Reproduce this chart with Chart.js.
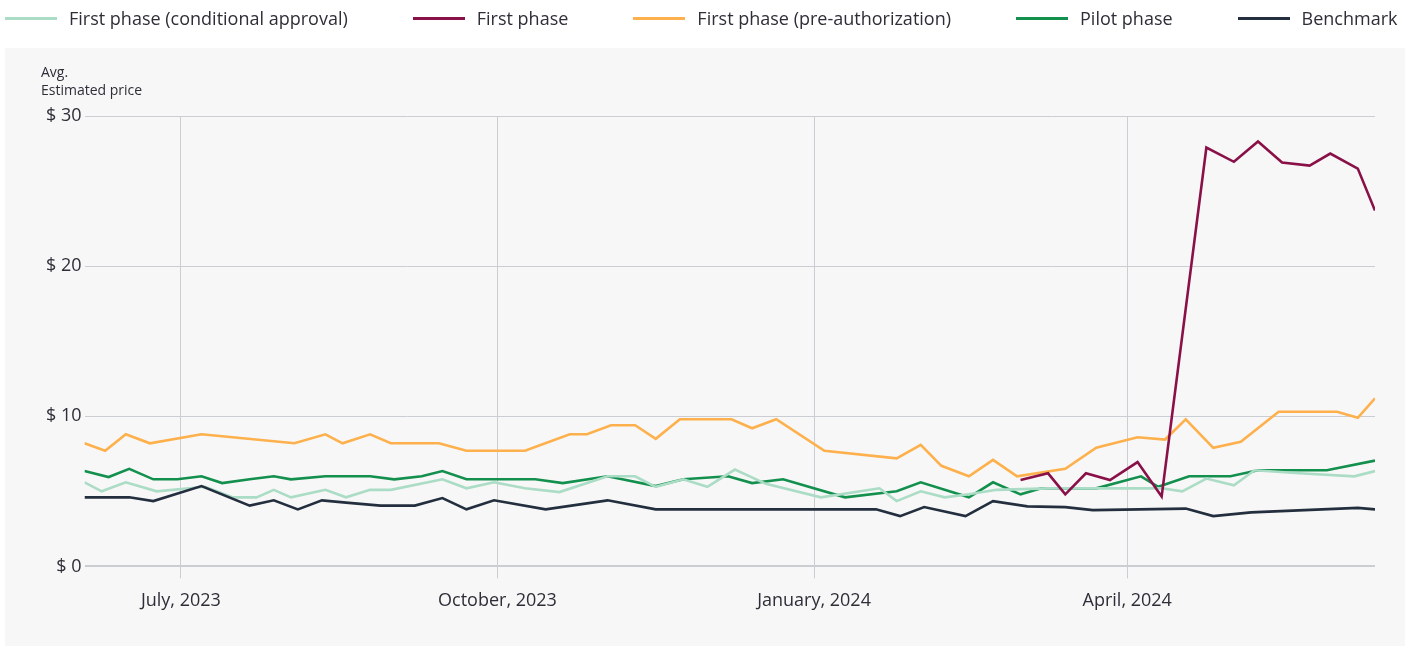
<!DOCTYPE html>
<html lang="en">
  <head>
    <meta charset="UTF-8" />
    <title>Avg. estimated price by phase</title>
    <script src="https://cdn.jsdelivr.net/npm/chart.js"></script>
    <style>
      * {
        margin: 0;
        padding: 0;
        box-sizing: border-box;
      }

      body {
        background: #ffffff;
        font-family: "Open Sans", sans-serif;
        overflow: hidden;
      }

      .wrap {
        position: relative;
        width: 1416px;
        height: 646px;
      }

      #legend {
        position: absolute;
        top: 6px;
        left: 5px;
        display: flex;
        align-items: center;
        gap: 65px;
        font-size: 18px;
        color: #2e2e38;
        white-space: nowrap;
      }

      .legend-item {
        display: flex;
        align-items: center;
      }

      .legend-line {
        display: inline-block;
        width: 52px;
        height: 3px;
        margin-right: 12px;
      }
    </style>
  </head>
  <body>
    <div class="wrap">
      <canvas id="priceChart" width="1416" height="646"></canvas>
      <div id="legend"></div>
    </div>

    <script>
      // series (dates + avg price in $)
      const condDates = [
        "2023-06-03", "2023-06-08", "2023-06-15", "2023-06-24", "2023-07-08",
        "2023-07-16", "2023-07-23", "2023-07-28", "2023-08-02", "2023-08-12",
        "2023-08-18", "2023-08-25", "2023-08-31", "2023-09-15", "2023-09-22",
        "2023-09-30", "2023-10-09", "2023-10-19", "2023-11-02", "2023-11-10",
        "2023-11-16", "2023-11-24", "2023-12-01", "2023-12-09", "2023-12-18",
        "2024-01-03", "2024-01-20", "2024-01-25", "2024-02-01", "2024-02-08",
        "2024-02-15", "2024-02-23", "2024-03-09", "2024-03-27", "2024-04-11",
        "2024-04-17", "2024-04-24", "2024-05-02", "2024-05-08", "2024-05-21",
        "2024-06-06", "2024-06-12",
      ];
      const condValues = [
        5.6, 5.0, 5.6, 5.0, 5.3, 4.6, 4.6, 5.1, 4.6, 5.1,
        4.6, 5.1, 5.1, 5.8, 5.2, 5.6, 5.2, 4.95, 6.0, 6.0,
        5.3, 5.8, 5.3, 6.45, 5.5, 4.6, 5.2, 4.35, 5.0, 4.6,
        4.8, 5.1, 5.2, 5.2, 5.2, 5.0, 5.85, 5.4, 6.4, 6.2,
        6.0, 6.35,
      ];

      const firstDates = [
        "2024-03-01", "2024-03-09", "2024-03-14", "2024-03-20", "2024-03-27",
        "2024-04-04", "2024-04-11", "2024-04-24", "2024-05-02", "2024-05-09",
        "2024-05-16", "2024-05-24", "2024-05-30", "2024-06-07", "2024-06-12",
      ];
      const firstValues = [
        5.75, 6.2, 4.8, 6.2, 5.75, 6.95, 4.65, 27.9, 26.95, 28.3,
        26.9, 26.7, 27.5, 26.5, 23.7,
      ];

      const preDates = [
        "2023-06-03", "2023-06-09", "2023-06-15", "2023-06-22", "2023-07-07",
        "2023-08-03", "2023-08-12", "2023-08-17", "2023-08-25", "2023-08-31",
        "2023-09-14", "2023-09-22", "2023-10-09", "2023-10-22", "2023-10-27",
        "2023-11-03", "2023-11-10", "2023-11-16", "2023-11-23", "2023-12-08",
        "2023-12-14", "2023-12-21", "2024-01-04", "2024-01-25", "2024-02-01",
        "2024-02-07", "2024-02-15", "2024-02-22", "2024-02-29", "2024-03-14",
        "2024-03-23", "2024-04-04", "2024-04-12", "2024-04-18", "2024-04-26",
        "2024-05-04", "2024-05-15", "2024-06-01", "2024-06-07", "2024-06-12",
      ];
      const preValues = [
        8.2, 7.7, 8.8, 8.2, 8.8, 8.2, 8.8, 8.2, 8.8, 8.2,
        8.2, 7.7, 7.7, 8.8, 8.8, 9.4, 9.4, 8.5, 9.8, 9.8,
        9.2, 9.8, 7.7, 7.2, 8.1, 6.7, 6.0, 7.1, 6.0, 6.5,
        7.9, 8.6, 8.45, 9.8, 7.9, 8.3, 10.3, 10.3, 9.9, 11.2,
      ];

      const pilotDates = [
        "2023-06-03", "2023-06-10", "2023-06-16", "2023-06-23", "2023-06-30",
        "2023-07-07", "2023-07-13", "2023-07-21", "2023-07-28", "2023-08-02",
        "2023-08-12", "2023-08-25", "2023-09-01", "2023-09-09", "2023-09-15",
        "2023-09-22", "2023-10-12", "2023-10-20", "2023-11-02", "2023-11-16",
        "2023-11-24", "2023-12-07", "2023-12-14", "2023-12-23", "2024-01-10",
        "2024-01-25", "2024-02-01", "2024-02-15", "2024-02-22", "2024-03-01",
        "2024-03-07", "2024-03-23", "2024-04-05", "2024-04-10", "2024-04-19",
        "2024-05-01", "2024-05-09", "2024-05-29", "2024-06-12",
      ];
      const pilotValues = [
        6.35, 5.95, 6.5, 5.8, 5.8, 6.0, 5.55, 5.8, 6.0, 5.8,
        6.0, 6.0, 5.8, 6.0, 6.35, 5.8, 5.8, 5.55, 6.0, 5.35,
        5.8, 6.0, 5.55, 5.8, 4.6, 5.0, 5.6, 4.6, 5.6, 4.8,
        5.2, 5.2, 6.0, 5.3, 6.0, 6.0, 6.4, 6.4, 7.05,
      ];

      const benchDates = [
        "2023-06-03", "2023-06-16", "2023-06-23", "2023-07-07", "2023-07-21",
        "2023-07-28", "2023-08-04", "2023-08-11", "2023-08-18", "2023-08-28",
        "2023-09-07", "2023-09-15", "2023-09-22", "2023-09-30", "2023-10-15",
        "2023-11-02", "2023-11-16", "2024-01-19", "2024-01-26", "2024-02-02",
        "2024-02-14", "2024-02-22", "2024-03-03", "2024-03-14", "2024-03-22",
        "2024-04-18", "2024-04-26", "2024-05-07", "2024-06-07", "2024-06-12",
      ];
      const benchValues = [
        4.6, 4.6, 4.35, 5.35, 4.05, 4.4, 3.8, 4.4, 4.25, 4.05,
        4.05, 4.55, 3.8, 4.4, 3.8, 4.4, 3.8, 3.8, 3.35, 3.95,
        3.35, 4.35, 4.0, 3.95, 3.75, 3.85, 3.35, 3.6, 3.9, 3.8,
      ];

      const tickDates = ["2023-07-01", "2023-10-01", "2024-01-01", "2024-04-01"];
      const tickLabels = ["July, 2023", "October, 2023", "January, 2024", "April, 2024"];
      const yTicks = [0, 10, 20, 30];

      // dates -> day numbers for the linear x axis
      function toDay(s) {
        return Date.parse(s) / 86400000;
      }

      function points(dates, values) {
        return dates.map((d, i) => ({ x: toDay(d), y: values[i] }));
      }

      function lineSet(label, dates, values, color, order) {
        return {
          label: label,
          data: points(dates, values),
          borderColor: color,
          backgroundColor: color,
          borderWidth: 2.6,
          pointRadius: 0,
          tension: 0,
          order: order,
        };
      }

      // grey panel behind the plot
      const panelBg = {
        id: "panelBg",
        beforeDraw(chart) {
          const ctx = chart.ctx;
          ctx.save();
          ctx.fillStyle = "#f7f7f7";
          ctx.fillRect(5, 48, 1400, 598);
          ctx.restore();
        },
      };

      Chart.defaults.font.family = "'Open Sans', sans-serif";
      Chart.defaults.color = "#2e2e38";

      const ctx = document.getElementById("priceChart").getContext("2d");
      const priceChart = new Chart(ctx, {
        type: "line",
        data: {
          datasets: [
            lineSet("First phase (conditional approval)", condDates, condValues, "#abdcc5", 2),
            lineSet("First phase", firstDates, firstValues, "#8a1148", 1),
            lineSet("First phase (pre-authorization)", preDates, preValues, "#fdb04b", 4),
            lineSet("Pilot phase", pilotDates, pilotValues, "#13904e", 3),
            lineSet("Benchmark", benchDates, benchValues, "#232f3e", 0),
          ],
        },
        plugins: [panelBg],
        options: {
          responsive: false,
          animation: false,
          devicePixelRatio: 1,
          layout: {
            padding: { top: 64, left: 41, right: 41, bottom: 22 },
          },
          plugins: {
            legend: { display: false },
            tooltip: { enabled: false },
            title: {
              display: true,
              text: ["Avg.", "Estimated price"],
              align: "start",
              color: "#2e2e38",
              font: { size: 14, weight: "normal", lineHeight: 18 / 14 },
              padding: { top: 0, bottom: 16 },
            },
          },
          scales: {
            x: {
              type: "linear",
              min: toDay("2023-06-03"),
              max: toDay("2024-06-12"),
              afterBuildTicks(scale) {
                scale.ticks = tickDates.map((d) => ({ value: toDay(d) }));
              },
              grid: {
                color: "#cacdd2",
                lineWidth: 1,
                drawTicks: true,
                tickLength: 12,
              },
              border: { display: false },
              ticks: {
                autoSkip: false,
                maxRotation: 0,
                padding: 12,
                font: { size: 18 },
                callback: (value, index) => tickLabels[index],
              },
            },
            y: {
              min: 0,
              max: 30,
              afterBuildTicks(scale) {
                scale.ticks = yTicks.map((v) => ({ value: v }));
              },
              afterFit(scale) {
                scale.width = 43.5;
              },
              grid: {
                color: "#cacdd2",
                lineWidth: (c) => (c.tick && c.tick.value === 0 ? 2 : 1),
                drawTicks: false,
              },
              border: { display: false },
              ticks: {
                padding: 3,
                font: { size: 18 },
                callback: (v) => "$ " + v,
              },
            },
          },
        },
      });

      // html legend, line swatches like the original
      const legendEl = document.getElementById("legend");
      priceChart.data.datasets.forEach((ds) => {
        const item = document.createElement("div");
        item.className = "legend-item";
        const line = document.createElement("span");
        line.className = "legend-line";
        line.style.background = ds.borderColor;
        const text = document.createElement("span");
        text.textContent = ds.label;
        item.appendChild(line);
        item.appendChild(text);
        legendEl.appendChild(item);
      });
    </script>
  </body>
</html>
